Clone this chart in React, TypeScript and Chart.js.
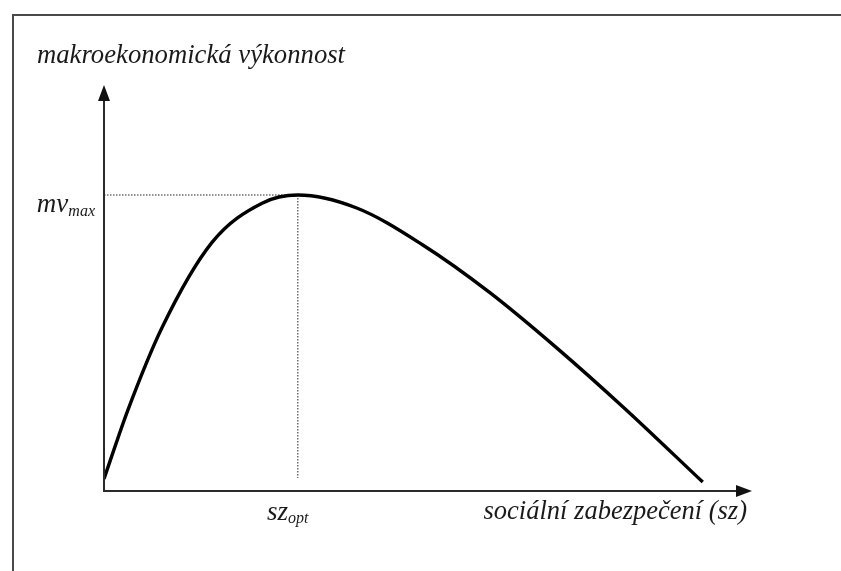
import React, { useEffect, useRef } from "react";
import { Chart, registerables } from "chart.js";

Chart.register(...registerables);

// ---- data (arbitrary units 0..100) ----
const curveX = [0, 3.7, 9.0, 16.7, 24.4, 29.9, 39.0, 49.2, 59.6, 69.9, 80.1, 92.4];
const curveY = [3.0, 20.0, 40.4, 61.3, 70.9, 72.9, 69.7, 60.6, 48.8, 35.2, 20.7, 2.2];
const szOpt = 29.9;
const mvMax = 72.9;
const dropFloor = 3.2;

const yAxisTitle = "makroekonomická výkonnost";
const xAxisTitle = "sociální zabezpečení (sz)";
const yMarkMain = "mv";
const yMarkSub = "max";
const xMarkMain = "sz";
const xMarkSub = "opt";

const FONT = '"Liberation Serif", "DejaVu Serif", serif';

const decorPlugin = {
  id: "decor",
  afterDatasetsDraw(chart: any) {
    const ctx = chart.ctx as CanvasRenderingContext2D;
    const xs = chart.scales.x;
    const ys = chart.scales.y;
    const x0 = xs.getPixelForValue(0);
    const y0 = ys.getPixelForValue(0);
    const xTip = xs.getPixelForValue(100);
    const yTip = ys.getPixelForValue(100);
    ctx.save();
    // axes
    ctx.strokeStyle = "#2a2a2a";
    ctx.fillStyle = "#111";
    ctx.lineWidth = 2;
    ctx.beginPath();
    ctx.moveTo(x0, y0 + 1);
    ctx.lineTo(x0, yTip + 12);
    ctx.moveTo(x0 - 1, y0);
    ctx.lineTo(xTip - 12, y0);
    ctx.stroke();
    // arrow heads
    ctx.beginPath();
    ctx.moveTo(x0, yTip);
    ctx.lineTo(x0 - 6, yTip + 16);
    ctx.lineTo(x0 + 6, yTip + 16);
    ctx.closePath();
    ctx.fill();
    ctx.beginPath();
    ctx.moveTo(xTip, y0);
    ctx.lineTo(xTip - 16, y0 - 6);
    ctx.lineTo(xTip - 16, y0 + 6);
    ctx.closePath();
    ctx.fill();

    // texts
    ctx.fillStyle = "#1a1a1a";
    ctx.textBaseline = "alphabetic";
    ctx.font = `italic 26.7px ${FONT}`;
    ctx.textAlign = "left";
    ctx.fillText(yAxisTitle, x0 - 67, yTip - 22);

    // mv_max
    const ym = ys.getPixelForValue(mvMax);
    ctx.font = `italic 16px ${FONT}`;
    const subW = ctx.measureText(yMarkSub).width;
    ctx.textAlign = "right";
    ctx.fillText(yMarkSub, x0 - 9, ym + 21);
    ctx.font = `italic 27px ${FONT}`;
    ctx.fillText(yMarkMain, x0 - 9 - subW, ym + 17);

    // sz_opt
    const xo = xs.getPixelForValue(szOpt);
    ctx.font = `italic 27px ${FONT}`;
    const mainW = ctx.measureText(xMarkMain).width;
    ctx.font = `italic 16px ${FONT}`;
    const sW = ctx.measureText(xMarkSub).width;
    const startX = xo - 10 - (mainW + sW) / 2;
    ctx.textAlign = "left";
    ctx.font = `italic 27px ${FONT}`;
    ctx.fillText(xMarkMain, startX, y0 + 29);
    ctx.font = `italic 16px ${FONT}`;
    ctx.fillText(xMarkSub, startX + mainW, y0 + 32);

    // x-axis title
    ctx.font = `italic 26.5px ${FONT}`;
    ctx.textAlign = "right";
    ctx.fillText(xAxisTitle, xTip - 5, y0 + 28);
    ctx.restore();
  },
};

export default function App() {
  const ref = useRef<HTMLCanvasElement | null>(null);
  useEffect(() => {
    if (!ref.current) return;
    const chart = new Chart(ref.current, {
      type: "scatter",
      data: {
        datasets: [
          {
            data: [
              { x: 0, y: mvMax },
              { x: szOpt, y: mvMax },
            ],
            showLine: true,
            borderColor: "#6e6e6e",
            borderWidth: 1.5,
            borderDash: [1.5, 1.5],
            pointRadius: 0,
            order: 2,
          },
          {
            data: [
              { x: szOpt, y: mvMax },
              { x: szOpt, y: dropFloor },
            ],
            showLine: true,
            borderColor: "#6e6e6e",
            borderWidth: 1.5,
            borderDash: [1.5, 1.5],
            pointRadius: 0,
            order: 2,
          },
          {
            data: curveX.map((x, i) => ({ x, y: curveY[i] })),
            showLine: true,
            borderColor: "#000",
            borderWidth: 3.4,
            pointRadius: 0,
            cubicInterpolationMode: "monotone",
            order: 1,
          },
        ],
      },
      options: {
        responsive: false,
        animation: false,
        events: [],
        layout: { padding: { left: 104, right: 89, top: 85, bottom: 80 } },
        plugins: { legend: { display: false }, tooltip: { enabled: false }, title: { display: false } },
        scales: {
          x: { type: "linear", min: 0, max: 100, display: false },
          y: { type: "linear", min: 0, max: 100, display: false },
        },
      },
      plugins: [decorPlugin],
    });
    return () => chart.destroy();
  }, []);

  return (
    <div style={{ position: "fixed", left: 0, top: 0, width: 841, height: 571, background: "#fff", overflow: "hidden" }}>
      <div
        style={{
          position: "absolute",
          left: 12,
          top: 14,
          right: 0,
          bottom: 0,
          borderTop: "2px solid #4a4a4a",
          borderLeft: "2px solid #4a4a4a",
        }}
      />
      <canvas ref={ref} width={841} height={571} style={{ position: "absolute", left: 0, top: 0 }} />
    </div>
  );
}
